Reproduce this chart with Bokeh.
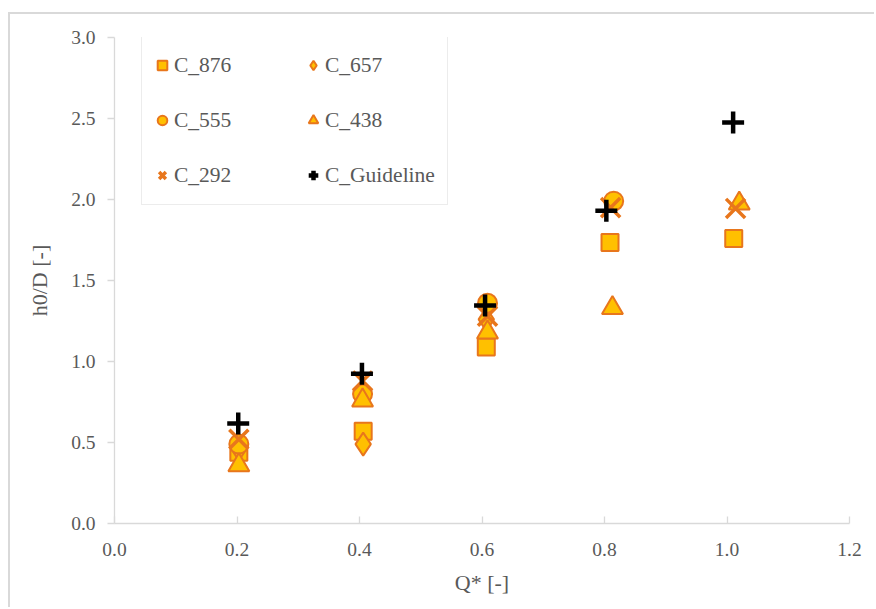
from bokeh.plotting import figure
from bokeh.models import (Range1d, FixedTicker, PrintfTickFormatter, Legend,
                          LegendItem)
from bokeh.embed import file_html
from bokeh.resources import INLINE

# Measured series: dimensionless discharge Q* vs. relative head h0/D
q_876 = [0.203, 0.406, 0.607, 0.809, 1.011]
h_876 = [0.44, 0.57, 1.09, 1.735, 1.76]

q_657 = [0.203, 0.406, 0.607]
h_657 = [0.46, 0.49, 1.26]

q_555 = [0.203, 0.405, 0.609, 0.815]
h_555 = [0.49, 0.80, 1.36, 1.99]

q_438 = [0.203, 0.405, 0.609, 0.813, 1.02]
h_438 = [0.36, 0.76, 1.18, 1.33, 1.975]

q_292 = [0.203, 0.405, 0.609, 0.81, 1.014]
h_292 = [0.52, 0.88, 1.28, 1.95, 1.945]

q_guide = [0.202, 0.404, 0.605, 0.803, 1.010]
h_guide = [0.617, 0.925, 1.345, 1.93, 2.475]

x_ticks = [0.0, 0.2, 0.4, 0.6, 0.8, 1.0, 1.2]
y_ticks = [0.0, 0.5, 1.0, 1.5, 2.0, 2.5, 3.0]

FONT = "Liberation Serif"
TEXT = "#595959"
AXIS = "#D9D9D9"
FILL = "#FFC000"
EDGE = "#E8761C"

p = figure(width=866, height=595, output_backend="svg", toolbar_location=None,
           x_range=Range1d(0, 1.2), y_range=Range1d(0, 3.0),
           min_border_left=104, min_border_right=27,
           min_border_top=23, min_border_bottom=86,
           margin=(12, 0, 0, 8),
           styles={"border-left": "2px solid #D9D9D9",
                   "border-top": "2px solid #D9D9D9"})
p.outline_line_color = None
p.grid.visible = False

p.xaxis.ticker = FixedTicker(ticks=x_ticks)
p.yaxis.ticker = FixedTicker(ticks=y_ticks)
for ax in (p.xaxis[0], p.yaxis[0]):
    ax.formatter = PrintfTickFormatter(format="%.1f")
    ax.axis_line_color = AXIS
    ax.axis_line_width = 1.3
    ax.major_tick_line_color = AXIS
    ax.major_tick_line_width = 1.3
    ax.minor_tick_line_color = None
    ax.major_label_text_font = FONT
    ax.major_label_text_font_size = "19.5px"
    ax.major_label_text_color = TEXT
    ax.axis_label_text_font = FONT
    ax.axis_label_text_font_size = "22px"
    ax.axis_label_text_color = TEXT
    ax.axis_label_text_font_style = "normal"

p.xaxis.major_tick_in = 7
p.xaxis.major_tick_out = 0
p.xaxis.major_label_standoff = 19
p.xaxis.axis_label = "Q* [-]"
p.xaxis.axis_label_standoff = 11

p.yaxis.major_tick_in = 0
p.yaxis.major_tick_out = 7
p.yaxis.major_label_standoff = 12
p.yaxis.axis_label = "h0/D [-]"
p.yaxis.axis_label_standoff = 16

r876 = p.scatter(q_876, h_876, marker="square", size=17, fill_color=FILL,
                 line_color=EDGE, line_width=2)
r657 = p.scatter(q_657, h_657, marker="diamond", size=23,
                 fill_color=FILL, line_color=EDGE, line_width=2)
r555 = p.scatter(q_555, h_555, marker="circle", size=19, fill_color=FILL,
                 line_color=EDGE, line_width=2)
r438 = p.scatter(q_438, h_438, marker="triangle", size=21, fill_color=FILL,
                 line_color=EDGE, line_width=2)
r292 = p.scatter(q_292, h_292, marker="x", size=27, line_color=EDGE,
                 line_width=3.5)
rgd = p.scatter(q_guide, h_guide, marker="cross", size=22, line_color="black",
                line_width=4.5)

# two-column legend, filled column by column
items = [
    LegendItem(label="C_876", renderers=[r876]),
    LegendItem(label="C_555", renderers=[r555]),
    LegendItem(label="C_292", renderers=[r292]),
    LegendItem(label="C_657", renderers=[r657]),
    LegendItem(label="C_438", renderers=[r438]),
    LegendItem(label="C_Guideline", renderers=[rgd]),
]
legend = Legend(items=items, ncols=2, location=(27, 318),
                padding=8, spacing=13, margin=0,
                glyph_width=24, glyph_height=24, label_height=42,
                label_width=114, label_standoff=0,
                label_text_font=FONT, label_text_font_size="21.5px",
                label_text_color=TEXT,
                border_line_color=AXIS, border_line_width=1.5,
                background_fill_color="white", background_fill_alpha=1)
p.add_layout(legend, "center")

open("out.html", "w").write(file_html(p, INLINE))
